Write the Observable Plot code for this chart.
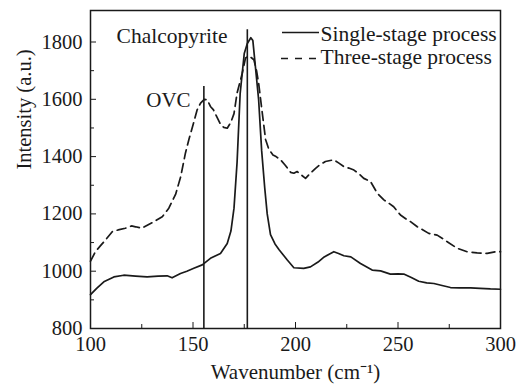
<!DOCTYPE html>
<html>
<head>
<meta charset="utf-8">
<script src="https://cdn.jsdelivr.net/npm/d3@7"></script>
<script src="https://cdn.jsdelivr.net/npm/@observablehq/plot@0.6"></script>
<style>
  html, body { margin: 0; padding: 0; background: #fff; }
  #chart { width: 521px; height: 385px; }
  #chart svg, #chart svg text { font-family: "Liberation Serif", "Times New Roman", serif !important; }
</style>
</head>
<body>
<div id="chart"></div>
<script>
// ---- data ----
const singleX = [100, 103, 106.5, 111.4, 116.2, 122, 127.6, 133, 137.4, 139.8, 143.9, 147, 150.4, 154.5, 158.5, 163.4, 166.7, 168.5, 170, 171.5, 173, 175, 176.5, 178.2, 179.2, 180.5, 182, 183.5, 185, 186.2, 187.8, 190, 192, 196, 199.2, 204, 207.3, 211, 214, 218.7, 221, 223.6, 227, 231.7, 237.4, 241.5, 246.3, 250, 252.8, 256.5, 260.1, 264, 267.5, 271.5, 275.6, 280, 285.4, 290, 295.1, 300];
const singleY = [918, 940, 963, 980, 986, 983, 980, 983, 984, 977, 992, 1000, 1010, 1022, 1045, 1062, 1097, 1140, 1220, 1380, 1620, 1760, 1795, 1815, 1805, 1710, 1600, 1420, 1290, 1200, 1128, 1095, 1075, 1039, 1012, 1010, 1015, 1032, 1050, 1068, 1062, 1054, 1050, 1027, 1004, 1001, 990, 991, 990, 978, 965, 959, 957, 950, 943, 942, 942, 940, 938, 937];

const threeX = [100, 102.4, 105, 107.3, 110.6, 114, 117, 120, 122, 125, 130, 135, 138.2, 141.5, 144, 146.3, 148, 150, 152, 153.7, 155.5, 157, 158.5, 160, 163.4, 165, 166.7, 168.5, 170, 171.5, 174, 175.6, 177.2, 178.5, 179.7, 181, 182, 183.8, 185.4, 187, 189, 190.5, 192.7, 195, 197.6, 199.2, 200.8, 203, 204.9, 207, 209.8, 212, 214.6, 218.7, 221, 223.6, 226, 228.5, 231, 233.3, 236.6, 239.9, 243.1, 246, 247.9, 251.2, 254, 256.1, 259.4, 262, 265, 269.1, 271.5, 274, 278.9, 283.7, 288.6, 293.5, 297.6, 300];
const threeY = [1035, 1068, 1090, 1109, 1138, 1145, 1150, 1158, 1155, 1150, 1169, 1190, 1220, 1268, 1330, 1412, 1460, 1510, 1563, 1587, 1600, 1598, 1575, 1563, 1513, 1502, 1499, 1520, 1550, 1622, 1690, 1744, 1751, 1745, 1738, 1700, 1657, 1552, 1460, 1425, 1406, 1400, 1389, 1370, 1345, 1342, 1348, 1335, 1324, 1340, 1359, 1372, 1383, 1389, 1378, 1365, 1360, 1353, 1340, 1324, 1313, 1272, 1249, 1235, 1225, 1196, 1182, 1173, 1155, 1145, 1132, 1126, 1115, 1103, 1080, 1068, 1064, 1062, 1068, 1068];

const peakNames = ["OVC", "Chalcopyrite"];
const peakPositions = [155.3, 176.5];
const peakLineTops = [1645, 1843];

const xTicks = [100, 150, 200, 250, 300];
const xMinorTicks = [125, 175, 225, 275];
const yTicks = [800, 1000, 1200, 1400, 1600, 1800];
const yMinorTicks = [900, 1100, 1300, 1500, 1700];

const seriesNames = ["Single-stage process", "Three-stage process"];
const xLabel = "Wavenumber (cm\u207B\u00B9)";
const yLabel = "Intensity (a.u.)";

// ---- build tables ----
const single = singleX.map((x, i) => ({x, y: singleY[i]}));
const three = threeX.map((x, i) => ({x, y: threeY[i]}));
const peaks = peakNames.map((name, i) => ({name, x: peakPositions[i], top: peakLineTops[i]}));

const ink = "#1a1a1a";
const font = "'Liberation Serif', 'Times New Roman', serif";

const chart = Plot.plot({
  width: 521,
  height: 385,
  marginLeft: 90,
  marginRight: 21,
  marginTop: 10,
  marginBottom: 57,
  style: {fontFamily: font, fontSize: "20px", color: ink, background: "#fff"},
  x: {domain: [100, 300]},
  y: {domain: [800, 1910]},
  marks: [
    Plot.ruleX(peaks, {x: "x", y1: 800, y2: "top", stroke: ink, strokeWidth: 1.6}),
    Plot.line(single, {x: "x", y: "y", stroke: ink, strokeWidth: 1.7}),
    Plot.line(three, {x: "x", y: "y", stroke: ink, strokeWidth: 1.7, strokeDasharray: "9,5"}),
    Plot.text(["Chalcopyrite"], {x: 139.8, y: 1797, text: d => d, textAnchor: "middle", lineAnchor: "bottom", fontSize: 21.5, fill: ink}),
    Plot.text(["OVC"], {x: 138, y: 1573, text: d => d, textAnchor: "middle", lineAnchor: "bottom", fontSize: 21, fill: ink}),
    Plot.axisX({ticks: xTicks, tickSize: -6, tickPadding: 14, fontSize: 20.5, label: null, stroke: ink, tickFormat: d3.format("d")}),
    Plot.axisX({ticks: xMinorTicks, tickSize: -4, tickFormat: () => "", label: null, stroke: ink}),
    Plot.axisY({ticks: yTicks, tickSize: -6, tickPadding: 14, fontSize: 20.5, label: null, stroke: ink, tickFormat: d3.format("d")}),
    Plot.axisY({ticks: yMinorTicks, tickSize: -4, tickFormat: () => "", label: null, stroke: ink}),
    Plot.frame({stroke: ink, strokeWidth: 1.5}),
    Plot.text([xLabel], {frameAnchor: "bottom", text: d => d, dy: 50, lineAnchor: "bottom", fontSize: 21, fill: ink}),
    Plot.text([yLabel], {frameAnchor: "left", text: d => d, rotate: -90, dx: -66, lineAnchor: "middle", fontSize: 20.5, fill: ink}),
    Plot.text([seriesNames[0]], {frameAnchor: "top-left", text: d => d, dx: 230, dy: 30, textAnchor: "start", lineAnchor: "bottom", fontSize: 21.5, fill: ink}),
    Plot.text([seriesNames[1]], {frameAnchor: "top-left", text: d => d, dx: 230, dy: 53.5, textAnchor: "start", lineAnchor: "bottom", fontSize: 21.5, fill: ink})
  ]
});

// legend line samples
const svg = d3.select(chart);
const lg = svg.append("g").attr("stroke", ink).attr("stroke-width", 1.7);
lg.append("line").attr("x1", 282).attr("x2", 319).attr("y1", 32.5).attr("y2", 32.5);
lg.append("line").attr("x1", 281).attr("x2", 316).attr("y1", 58.5).attr("y2", 58.5).attr("stroke-dasharray", "7,7");

document.getElementById("chart").appendChild(chart);
</script>
</body>
</html>
